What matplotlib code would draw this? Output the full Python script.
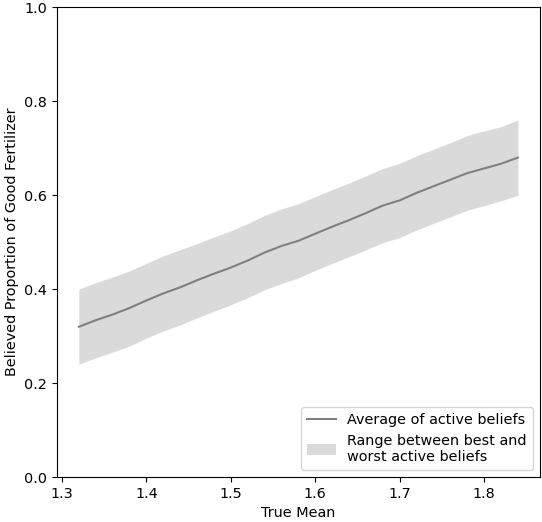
import numpy as np
import matplotlib
matplotlib.use('Agg')
import matplotlib.pyplot as plt

plt.rcParams['font.size'] = 10.4

# true means tested
true_mean = [1.32, 1.34, 1.36, 1.38, 1.40, 1.42, 1.44, 1.46, 1.48, 1.50,
             1.52, 1.54, 1.56, 1.58, 1.60, 1.62, 1.64, 1.66, 1.68, 1.70,
             1.72, 1.74, 1.76, 1.78, 1.80, 1.82, 1.84]

avg_belief = [0.320, 0.334, 0.346, 0.360, 0.376, 0.391, 0.404, 0.419, 0.433, 0.446,
              0.461, 0.478, 0.492, 0.503, 0.518, 0.533, 0.547, 0.562, 0.578, 0.589,
              0.605, 0.619, 0.633, 0.647, 0.657, 0.667, 0.680]

best_belief = [0.400, 0.414, 0.426, 0.439, 0.455, 0.471, 0.484, 0.497, 0.511, 0.524,
               0.540, 0.557, 0.571, 0.582, 0.597, 0.612, 0.626, 0.641, 0.657, 0.668,
               0.684, 0.698, 0.712, 0.727, 0.737, 0.746, 0.760]

worst_belief = [0.240, 0.254, 0.266, 0.279, 0.296, 0.311, 0.324, 0.339, 0.353, 0.367,
                0.382, 0.399, 0.412, 0.424, 0.440, 0.455, 0.469, 0.484, 0.499, 0.510,
                0.526, 0.540, 0.554, 0.568, 0.578, 0.588, 0.600]

fig = plt.figure(figsize=(5.42, 5.22), dpi=100)
ax = fig.add_axes([0.105, 0.086, 0.891, 0.9])

ax.plot(true_mean, avg_belief, color='grey', linewidth=1.5,
        label='Average of active beliefs')
ax.fill_between(true_mean, worst_belief, best_belief, color='#dadada',
                linewidth=0, label='Range between best and\nworst active beliefs')

ax.set_ylim(0, 1)
ax.set_xlabel('True Mean')
ax.set_ylabel('Believed Proportion of Good Fertilizer')
ax.legend(loc='lower right')

fig.savefig('out.png', dpi=100)
